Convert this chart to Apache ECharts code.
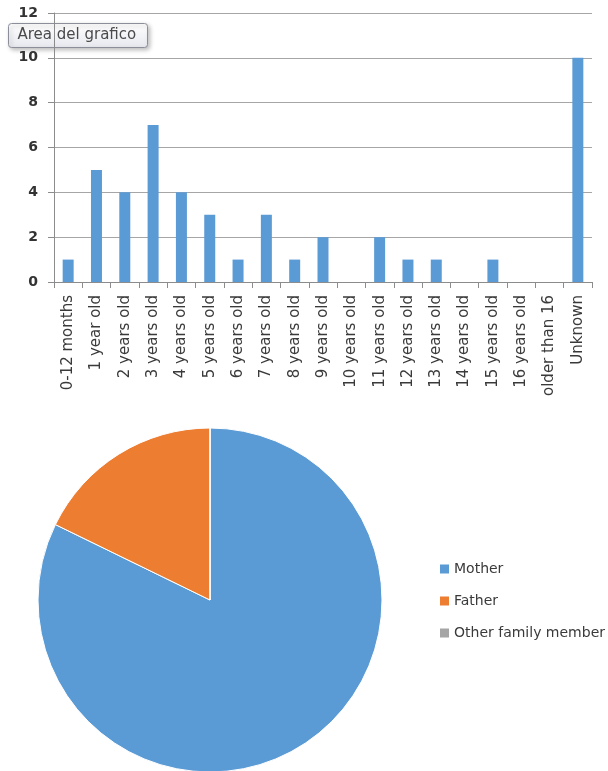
<!DOCTYPE html>
<html>
<head>
<meta charset="utf-8">
<script src="https://cdn.jsdelivr.net/npm/echarts@6/dist/echarts.min.js"></script>
<style>
  html, body { margin: 0; padding: 0; background: #fff; }
  #chart { width: 608px; height: 771px; }
</style>
</head>
<body>
<div id="chart"></div>
<script>
// Age of children at the time of the case
const ageCategories = [
  '0-12 months', '1 year old', '2 years old', '3 years old', '4 years old',
  '5 years old', '6 years old', '7 years old', '8 years old', '9 years old',
  '10 years old', '11 years old', '12 years old', '13 years old', '14 years old',
  '15 years old', '16 years old', 'older than 16', 'Unknown'
];
const ageCounts = [1, 5, 4, 7, 4, 3, 1, 3, 1, 2, 0, 2, 1, 1, 0, 1, 0, 0, 10];
const yTicks = [0, 2, 4, 6, 8, 10, 12];

// Relationship of the parent involved
const relationNames = ['Mother', 'Father', 'Other family member'];
const relationValues = [37, 8, 0];

const barColor = '#5b9bd5';
const sliceColors = ['#5b9bd5', '#ed7d31', '#a5a5a5'];
const font = '"DejaVu Sans", "Noto Sans", sans-serif';

const chart = echarts.init(document.getElementById('chart'), null, { renderer: 'canvas' });

chart.setOption({
  animation: false,
  backgroundColor: '#ffffff',
  textStyle: { fontFamily: font },
  grid: { left: 54, right: 16, top: 13, height: 269, containLabel: false },
  xAxis: {
    type: 'category',
    data: ageCategories,
    axisLine: { lineStyle: { color: '#8c8c8c', width: 1 } },
    axisTick: { show: true, length: 6, lineStyle: { color: '#8c8c8c' } },
    axisLabel: {
      rotate: 90,
      interval: 0,
      margin: 13,
      color: '#3a3a3a',
      fontSize: 15,
      fontFamily: font
    },
    splitLine: { show: false }
  },
  yAxis: {
    type: 'value',
    min: yTicks[0],
    max: yTicks[yTicks.length - 1],
    interval: 2,
    axisLine: { show: true, lineStyle: { color: '#8c8c8c', width: 1 } },
    axisTick: { show: true, length: 6, lineStyle: { color: '#8c8c8c' } },
    axisLabel: {
      color: '#333333',
      fontSize: 14,
      fontWeight: 'bold',
      margin: 16,
      fontFamily: font
    },
    splitLine: { lineStyle: { color: '#a6a6a6', width: 1 } }
  },
  legend: {
    orient: 'vertical',
    left: 435,
    top: 557,
    itemWidth: 9,
    itemHeight: 9,
    itemGap: 18,
    icon: 'rect',
    itemStyle: { borderWidth: 0 },
    data: relationNames,
    textStyle: { color: '#3a3a3a', fontSize: 14, fontFamily: font }
  },
  series: [
    {
      type: 'bar',
      data: ageCounts,
      barWidth: 11,
      itemStyle: { color: barColor },
      silent: true
    },
    {
      type: 'pie',
      center: [210, 600],
      radius: 172,
      startAngle: 90,
      clockwise: true,
      label: { show: false },
      labelLine: { show: false },
      silent: true,
      itemStyle: { borderColor: '#ffffff', borderWidth: 1 },
      data: relationNames.map((name, i) => ({
        name: name,
        value: relationValues[i],
        itemStyle: { color: sliceColors[i] }
      }))
    }
  ],
  graphic: [
    {
      type: 'group',
      left: 8,
      top: 23,
      children: [
        {
          type: 'rect',
          shape: { x: 0, y: 0, width: 139, height: 24, r: 3 },
          style: {
            fill: new echarts.graphic.LinearGradient(0, 0, 0, 1, [
              { offset: 0, color: '#ffffff' },
              { offset: 1, color: '#e6e8ee' }
            ]),
            stroke: '#8c8f99',
            lineWidth: 1,
            shadowBlur: 4,
            shadowOffsetX: 2,
            shadowOffsetY: 2,
            shadowColor: 'rgba(0,0,0,0.25)'
          }
        },
        {
          type: 'text',
          x: 9,
          y: 12,
          style: {
            text: 'Area del grafico',
            fill: '#4a4a4a',
            font: '15px ' + font,
            verticalAlign: 'middle'
          }
        }
      ]
    }
  ]
});
</script>
</body>
</html>
